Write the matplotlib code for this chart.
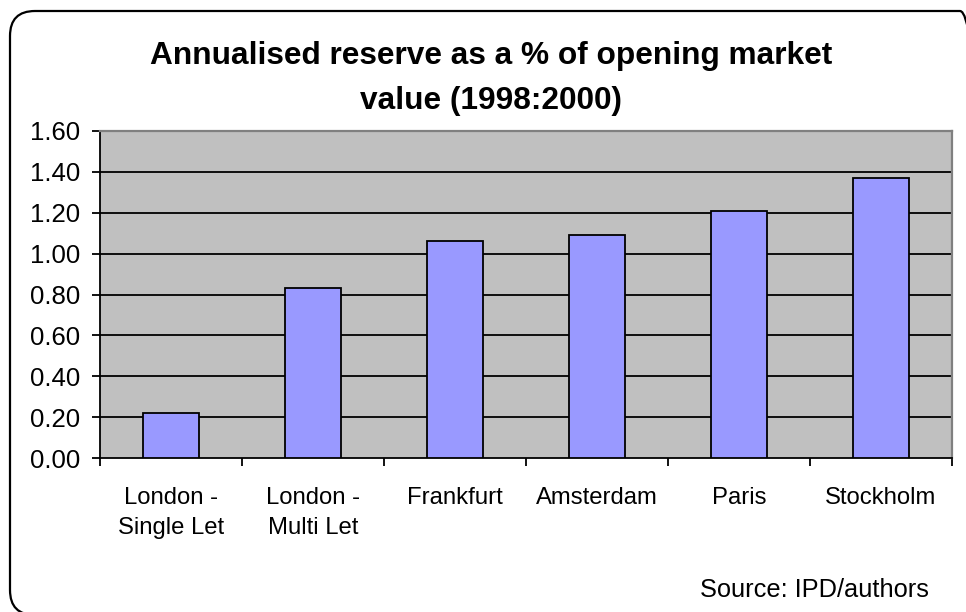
import matplotlib.pyplot as plt
import numpy as np
from matplotlib.patches import FancyBboxPatch

plt.rcParams['font.family'] = ['Liberation Sans', 'DejaVu Sans']

# data
cities = ["London -\nSingle Let", "London -\nMulti Let", "Frankfurt",
          "Amsterdam", "Paris", "Stockholm"]
reserve = [0.22, 0.83, 1.06, 1.09, 1.21, 1.37]
yticks = [0.0, 0.2, 0.4, 0.6, 0.8, 1.0, 1.2, 1.4, 1.6]

W, H = 966, 612
fig = plt.figure(figsize=(W / 100, H / 100), dpi=100)
ax = fig.add_axes([100 / W, 1 - 458 / H, 852 / W, 327 / H])

# rounded outer frame, runs off the right and bottom edges
frame = FancyBboxPatch((0.10, -0.03), 9.75, 6.04,
                       boxstyle="round,pad=0,rounding_size=0.25",
                       transform=fig.dpi_scale_trans, fill=False,
                       edgecolor="black", linewidth=1.6)
fig.patches.append(frame)

x = np.arange(len(cities))
ax.set_facecolor("#c0c0c0")
ax.bar(x, reserve, width=0.4, color="#9999ff", edgecolor="black",
       linewidth=1.3, zorder=3)

ax.set_xlim(-0.5, len(cities) - 0.5)
ax.set_ylim(0, 1.6)
ax.set_yticks(yticks)
ax.set_yticklabels([f"{v:.2f}" for v in yticks], fontsize=18.5)
for v in yticks[1:-1]:
    ax.axhline(v, color="black", linewidth=1.3, zorder=1)

ax.set_xticks(x)
ax.set_xticklabels(cities, fontsize=17.2, linespacing=1.45)
ax.tick_params(axis="x", length=0, pad=21)
ax.set_xticks(np.arange(-0.5, len(cities)), minor=True)
ax.tick_params(axis="x", which="minor", length=6, width=1.3, direction="out")
ax.tick_params(axis="y", length=6, width=1.3, direction="out", pad=8)

for s in ["top", "right"]:
    ax.spines[s].set_color("#808080")
    ax.spines[s].set_linewidth(1.6)
for s in ["left", "bottom"]:
    ax.spines[s].set_color("black")
    ax.spines[s].set_linewidth(1.3)

fig.text(491 / W, 1 - 64 / H, "Annualised reserve as a % of opening market",
         ha="center", va="baseline", fontsize=22.8, fontweight="bold")
fig.text(491 / W, 1 - 109 / H, "value (1998:2000)",
         ha="center", va="baseline", fontsize=22.8, fontweight="bold")
fig.text(929 / W, 1 - 597 / H, "Source: IPD/authors", ha="right",
         va="baseline", fontsize=18.3)

fig.savefig("out.png", dpi=100)
